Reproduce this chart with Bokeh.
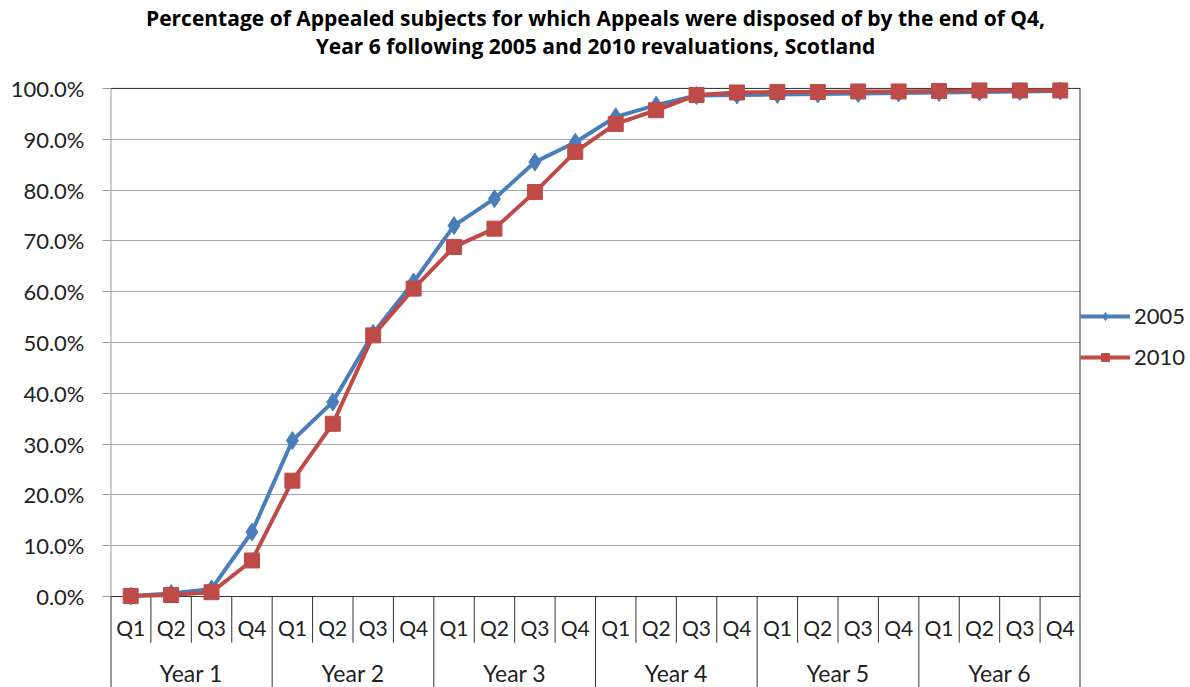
from bokeh.plotting import figure
from bokeh.models import Range1d, FixedTicker, PrintfTickFormatter, Legend, LegendItem
from bokeh.embed import file_html
from bokeh.resources import INLINE
from bokeh.core.properties import value

# ---- data ----
years = ["Year 1", "Year 2", "Year 3", "Year 4", "Year 5", "Year 6"]
quarters = ["Q1", "Q2", "Q3", "Q4"]
y2005 = [0.1, 0.6, 1.5, 12.7, 30.7, 38.3, 51.8, 61.9, 73.0, 78.3, 85.5, 89.4,
         94.4, 96.7, 98.6, 98.7, 98.8, 98.9, 99.0, 99.1, 99.2, 99.3, 99.4, 99.5]
y2010 = [0.1, 0.3, 0.85, 7.1, 22.8, 34.0, 51.4, 60.6, 68.8, 72.4, 79.6, 87.5,
         93.0, 95.7, 98.7, 99.2, 99.3, 99.3, 99.4, 99.4, 99.5, 99.6, 99.6, 99.6]
y_ticks = [0, 10, 20, 30, 40, 50, 60, 70, 80, 90, 100]
series_labels = ["2005", "2010"]
title_lines = ["Percentage of Appealed subjects for which Appeals were disposed of by the end of Q4,",
               "Year 6 following 2005 and 2010 revaluations, Scotland"]

FONT = value("Lato")
nq = len(quarters)
n = len(years) * nq
xs = [i + 0.5 for i in range(n)]
q_text = [quarters[i % nq] for i in range(n)]
year_x = [k * nq + nq / 2 for k in range(len(years))]

Y_TOP = 117.3
Y_BOTTOM = -17.9
Q_SEP_BOTTOM = -9.1
Q_LABEL_Y = -6.1
YEAR_LABEL_Y = -15.0
TITLE_Y = [113.8, 108.3]

p = figure(frame_width=970, frame_height=687,
           x_range=Range1d(0, n), y_range=Range1d(Y_BOTTOM, Y_TOP),
           output_backend="svg", toolbar_location=None,
           min_border_left=110, min_border_right=108, min_border_bottom=0, min_border_top=0)
p.outline_line_color = None
p.background_fill_color = "white"
p.xaxis.visible = False
p.xgrid.visible = False

p.yaxis.ticker = FixedTicker(ticks=y_ticks)
p.yaxis.formatter = PrintfTickFormatter(format="%.1f%%")
p.yaxis.axis_line_color = None
p.yaxis.major_tick_line_color = "#999999"
p.yaxis.major_tick_out = 8
p.yaxis.major_tick_in = 0
p.yaxis.minor_tick_line_color = None
p.yaxis.major_label_text_font = "Lato"
p.yaxis.major_label_text_font_size = "22px"
p.yaxis.major_label_text_color = "#222222"
p.yaxis.major_label_standoff = 18
p.ygrid.grid_line_color = "#a6a6a6"
p.ygrid.grid_line_width = 1

# plot-area borders
p.segment(x0=[0], y0=[0], x1=[0], y1=[100], line_color="#999999", line_width=2)
p.segment(x0=[0, 0], y0=[100, 0], x1=[n, n], y1=[100, 0], line_color="#333333", line_width=1)
p.segment(x0=[n], y0=[Y_BOTTOM], x1=[n], y1=[100], line_color="#333333", line_width=2)

# category table
q_sep = [i for i in range(1, n) if i % nq != 0]
y_sep = [i for i in range(0, n) if i % nq == 0]
p.segment(x0=q_sep, y0=[0] * len(q_sep), x1=q_sep, y1=[Q_SEP_BOTTOM] * len(q_sep),
          line_color="#333333", line_width=1)
p.segment(x0=y_sep, y0=[0] * len(y_sep), x1=y_sep, y1=[Y_BOTTOM] * len(y_sep),
          line_color="#333333", line_width=[2 if v == 0 else 1 for v in y_sep])
p.text(x=xs, y=[Q_LABEL_Y] * n, text=q_text, text_font=FONT, text_font_size="21px",
       text_color="#222222", text_align="center", text_baseline="middle")
p.text(x=year_x, y=[YEAR_LABEL_Y] * len(years), text=years, text_font=FONT, text_font_size="23px",
       text_color="#222222", text_align="center", text_baseline="middle")

# title
p.text(x=[n / 2, n / 2], y=TITLE_Y, text=title_lines, text_font=value("Open Sans"),
       text_font_size="21px", text_font_style="bold", text_color="#000000",
       text_align="center", text_baseline="middle")

# series
blue = "#4A7EBB"
red = "#BE4B48"
l1 = p.line(xs, y2005, line_color=blue, line_width=4)
s1 = p.scatter(xs, y2005, marker="diamond", size=18, fill_color=blue, line_color=blue)
l2 = p.line(xs, y2010, line_color=red, line_width=4)
s2 = p.scatter(xs, y2010, marker="square", size=15, fill_color=red, line_color=red)

legend = Legend(items=[LegendItem(label=series_labels[0], renderers=[l1, s1]),
                       LegendItem(label=series_labels[1], renderers=[l2, s2])],
                location=(0, 317), border_line_color=None, background_fill_alpha=0,
                glyph_width=50, glyph_height=20, label_height=20, spacing=14,
                padding=0, margin=0, label_standoff=4,
                label_text_font="Lato", label_text_font_size="22px", label_text_color="#222222")
p.add_layout(legend, "right")

open("out.html", "w").write(file_html(p, INLINE))
